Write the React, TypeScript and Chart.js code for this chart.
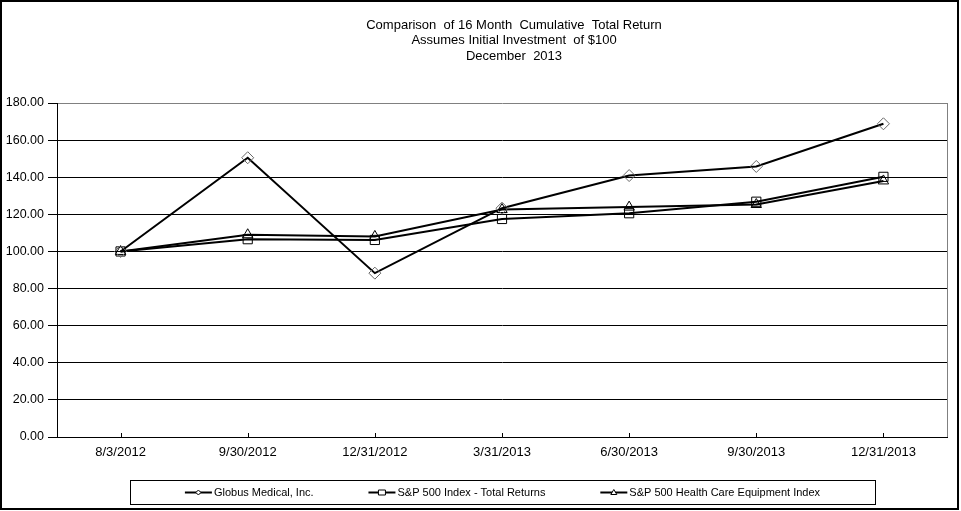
import React, { useEffect, useRef } from 'react';
import { Chart, registerables } from 'chart.js';

Chart.register(...registerables);

const categories = ['8/3/2012', '9/30/2012', '12/31/2012', '3/31/2013', '6/30/2013', '9/30/2013', '12/31/2013'];
const globusValues = [100, 150.5, 88.3, 123.3, 140.9, 145.8, 168.8];
const sp500Values = [100, 106.6, 106.2, 117.5, 120.6, 126.8, 140.2];
const hcEquipValues = [100, 109.0, 108.1, 122.6, 123.9, 125.3, 138.0];
const seriesNames = ['Globus Medical, Inc.', 'S&P 500 Index - Total Returns', 'S&P 500 Health Care Equipment Index'];
const seriesMarkers = ['rectRot', 'rect', 'triangle'];
const titleLines = ['Comparison  of 16 Month  Cumulative  Total Return', 'Assumes Initial Investment  of $100', 'December  2013'];
const yMin = 0;
const yMax = 180;
const yStep = 20;

const FONT = '"Liberation Sans", Arial, sans-serif';

function drawMiniMarker(ctx: CanvasRenderingContext2D, kind: string, x: number, y: number) {
  ctx.beginPath();
  if (kind === 'rectRot') {
    ctx.moveTo(x, y - 2.5);
    ctx.lineTo(x + 2.5, y);
    ctx.lineTo(x, y + 2.5);
    ctx.lineTo(x - 2.5, y);
    ctx.closePath();
  } else if (kind === 'rect') {
    ctx.rect(x - 3.5, y - 2.5, 7, 5);
  } else {
    ctx.moveTo(x, y - 3);
    ctx.lineTo(x + 3, y + 2);
    ctx.lineTo(x - 3, y + 2);
    ctx.closePath();
  }
  ctx.fillStyle = '#fff';
  ctx.fill();
  ctx.stroke();
}

const decorPlugin = {
  id: 'decor',
  afterDraw(chart: any) {
    const ctx: CanvasRenderingContext2D = chart.ctx;
    const area = chart.chartArea;
    ctx.save();
    // right plot border (gray)
    ctx.lineWidth = 1;
    ctx.strokeStyle = '#808080';
    const rx = Math.round(area.right) + 0.5;
    ctx.beginPath();
    ctx.moveTo(rx, area.top);
    ctx.lineTo(rx, area.bottom);
    ctx.stroke();

    // inward x tick marks
    const xs = chart.scales.x;
    ctx.strokeStyle = '#000';
    categories.forEach((_, i) => {
      const px = Math.round(xs.getPixelForValue(i)) + 0.5;
      ctx.beginPath();
      ctx.moveTo(px, area.bottom - 4);
      ctx.lineTo(px, area.bottom);
      ctx.stroke();
    });

    // title
    ctx.fillStyle = '#000';
    ctx.font = '13px ' + FONT;
    ctx.textAlign = 'center';
    ctx.textBaseline = 'middle';
    titleLines.forEach((t, i) => ctx.fillText(t, 514, 25 + i * 15.5));

    // legend
    const box = { left: 130, top: 480, right: 875, bottom: 504 };
    ctx.strokeStyle = '#000';
    ctx.lineWidth = 1;
    ctx.strokeRect(box.left + 0.5, box.top + 0.5, box.right - box.left, box.bottom - box.top);
    ctx.font = '11px ' + FONT;
    ctx.textAlign = 'left';
    const sampleW = 27;
    const gap = 2;
    const widths = seriesNames.map((n) => sampleW + gap + ctx.measureText(n).width);
    const total = widths.reduce((a, b) => a + b, 0);
    const space = (box.right - box.left - total) / (seriesNames.length + 1);
    const cy = (box.top + box.bottom) / 2 + 0.5;
    let x = box.left + space;
    seriesNames.forEach((n, i) => {
      ctx.lineWidth = 2;
      ctx.strokeStyle = '#000';
      ctx.beginPath();
      ctx.moveTo(x, cy);
      ctx.lineTo(x + sampleW, cy);
      ctx.stroke();
      ctx.lineWidth = 1;
      drawMiniMarker(ctx, seriesMarkers[i], x + sampleW / 2, cy);
      ctx.fillStyle = '#000';
      ctx.fillText(n, x + sampleW + gap, cy);
      x += widths[i] + space;
    });

    // outer border
    ctx.lineWidth = 2;
    ctx.strokeStyle = '#000';
    ctx.strokeRect(1, 1, 957, 508);
    ctx.restore();
  },
};

export default function App() {
  const ref = useRef<HTMLCanvasElement | null>(null);

  useEffect(() => {
    if (!ref.current) return;
    const series = [globusValues, sp500Values, hcEquipValues];
    const chart = new Chart(ref.current, {
      type: 'line',
      data: {
        labels: categories,
        datasets: series.map((vals, i) => ({
          label: seriesNames[i],
          data: vals,
          borderColor: '#000',
          borderWidth: 2,
          tension: 0,
          fill: false,
          pointStyle: seriesMarkers[i] as any,
          pointRadius: i === 0 ? 6 : i === 1 ? 6.5 : 6,
          pointBorderColor: i === 0 ? '#666' : '#000',
          pointBorderWidth: 1,
          pointBackgroundColor: 'rgba(0,0,0,0)',
        })),
      },
      options: {
        responsive: false,
        animation: false,
        devicePixelRatio: 1,
        layout: { padding: { left: 0, top: 103, right: 14, bottom: 0 } },
        plugins: {
          legend: { display: false },
          title: { display: false },
          tooltip: { enabled: false },
        },
        scales: {
          x: {
            type: 'category',
            offset: true,
            grid: { display: true, drawOnChartArea: false, drawTicks: false },
            border: { color: '#000', width: 1 },
            ticks: {
              color: '#000',
              font: { family: FONT, size: 13 },
              padding: 8,
              maxRotation: 0,
              autoSkip: false,
            },
            afterFit: (s: any) => {
              s.height = 74;
            },
          },
          y: {
            min: yMin,
            max: yMax,
            grid: {
              color: (c: any) => (c.tick && c.tick.value === yMax ? '#808080' : '#000'),
              tickColor: '#000',
              tickLength: 9,
              lineWidth: 1,
            },
            border: { color: '#000', width: 1 },
            ticks: {
              stepSize: yStep,
              color: '#000',
              font: { family: FONT, size: 12.5 },
              padding: 4,
              callback: (v: any) => Number(v).toFixed(2),
            },
            afterFit: (s: any) => {
              s.width = 57;
            },
          },
        },
      },
      plugins: [decorPlugin],
    });
    return () => chart.destroy();
  }, []);

  return (
    <div style={{ position: 'fixed', left: 0, top: 0, width: 961, height: 511, background: '#fff' }}>
      <canvas ref={ref} width={961} height={511} style={{ width: 961, height: 511, display: 'block' }} />
    </div>
  );
}
